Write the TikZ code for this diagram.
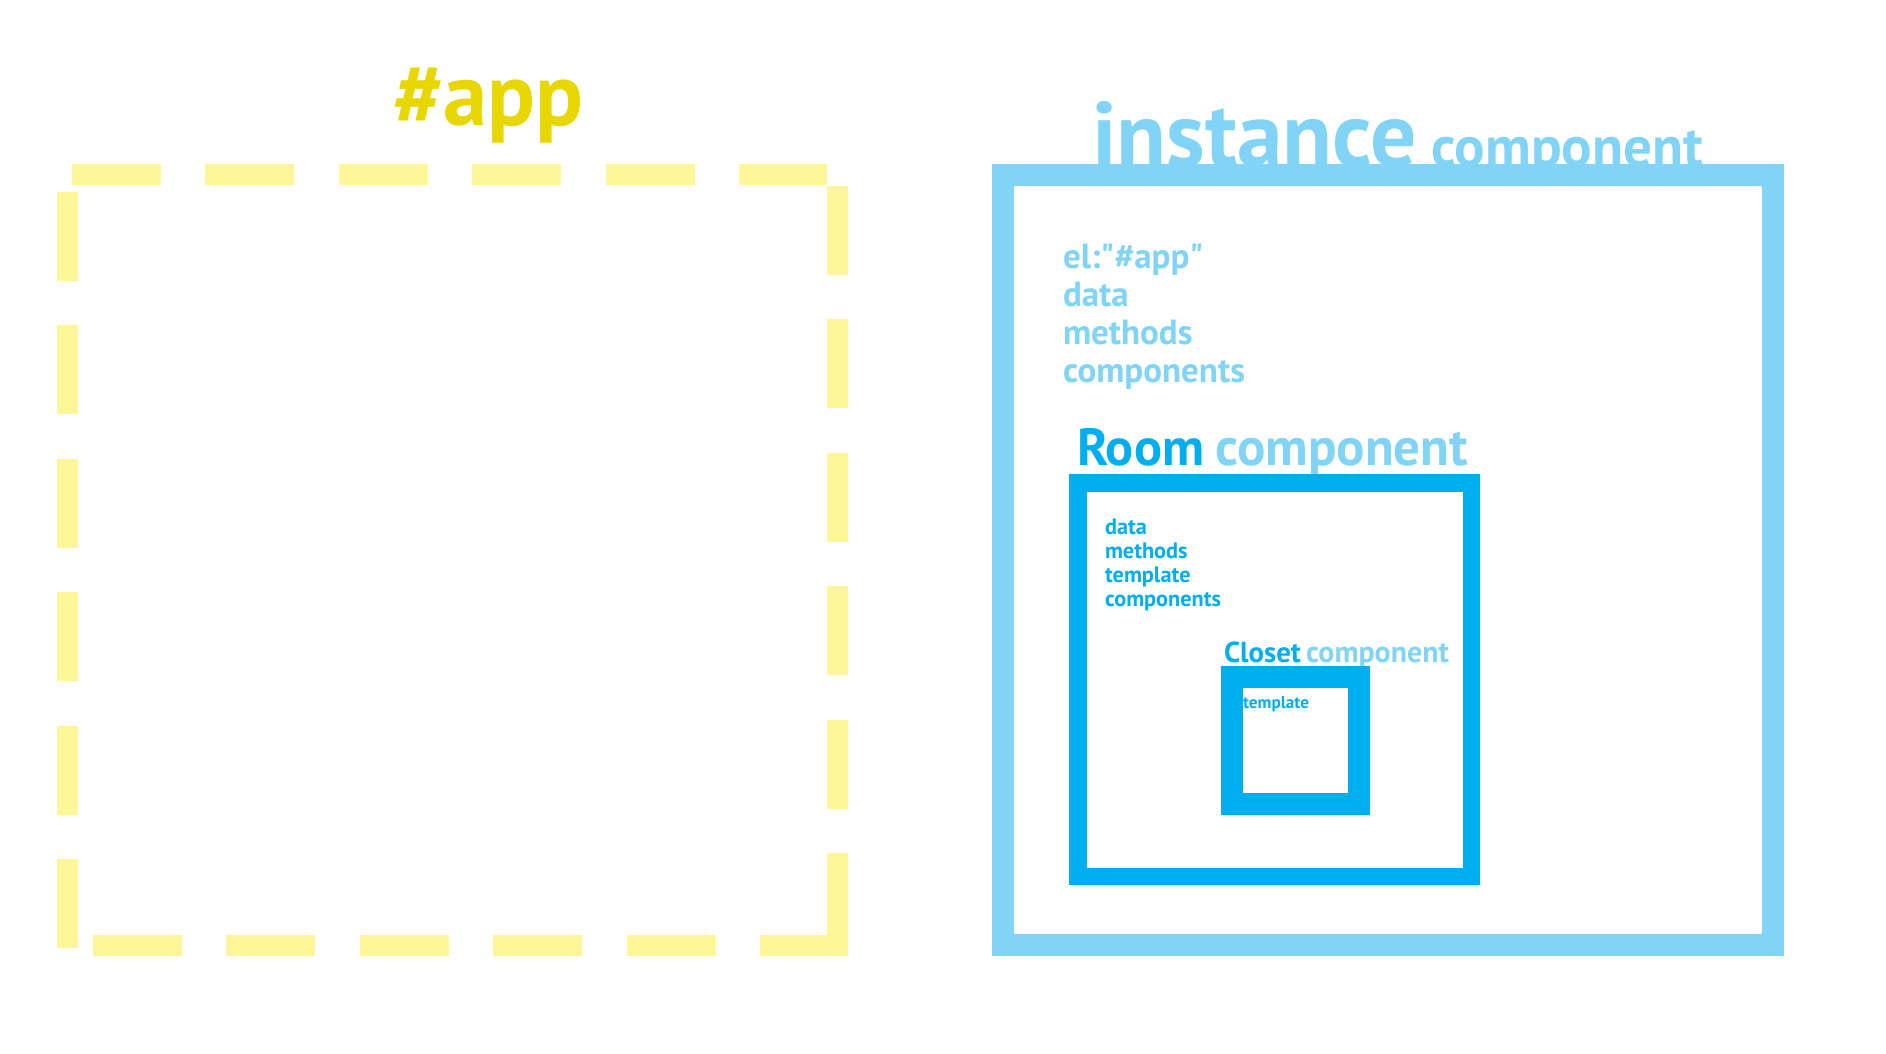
\documentclass[tikz,border=0pt]{standalone}
\usepackage{fontspec}
\setmainfont{PT Sans}
% same family without the TeX quote mapping, for straight quotes
\newfontfamily\quotefont{PT Sans}

\definecolor{dashyellow}{HTML}{FFF69A}
\definecolor{appyellow}{HTML}{E8D600}
\definecolor{lightblue}{HTML}{81D4F5}
\definecolor{deepblue}{HTML}{00AEEF}

% Bold font sized so that the sample text spans the given width (pt);
% third argument is the baseline skip (pt).
\newlength\fitlen
\newcommand\fitfont[3]{%
  \settowidth\fitlen{\fontsize{100pt}{100pt}\selectfont\bfseries #2}%
  \pgfmathsetmacro\fitsz{#1/\fitlen*100}%
  \fontsize{\fitsz pt}{#3pt}\selectfont\bfseries}
% straight double quote
\newcommand\sq{{\quotefont\bfseries"}}

\begin{document}
\begin{tikzpicture}[x=1pt,y=-1pt,
  txt/.style={inner sep=0pt, outer sep=0pt, anchor=base west},
  frame/.style={draw, fill=none, inner sep=0pt, outer sep=0pt, minimum size=#1},
  appdash/.style={draw=dashyellow, line width=21pt, line cap=butt,
                  dash pattern=on 89pt off 44.4pt}]

\useasboundingbox (0,0) rectangle (1886,1054);
\fill[white] (0,0) rectangle (1886,1054);

% ---------- #app mount point: dashed square ----------
\node[txt, text=appyellow, font=\fitfont{190}{\#app}{100}] (apptitle) at (393,125) {\#app};
\node[inner sep=0pt, outer sep=0pt, minimum width=770.5pt, minimum height=771pt] (appbox) at (452.25,560) {};
\draw[appdash] ([xshift=5pt]appbox.north west) -- ([xshift=-10.5pt]appbox.north east);
\draw[appdash] ([yshift=-11.5pt]appbox.north east) -- ([yshift=3.5pt]appbox.south east);
\draw[appdash] ([yshift=-17.5pt]appbox.north west) -- ([yshift=-3.5pt]appbox.south west);
\draw[appdash] ([xshift=26pt]appbox.south west) -- ([xshift=10.5pt]appbox.south east);

% ---------- root instance ----------
\node[txt, text=lightblue, font=\fitfont{325}{instance}{100}] (insttitle) at (1092,166) {instance};
\node[txt, text=lightblue, font=\fitfont{272}{component}{100}] (instcomp) at (1431,166) {component};
% multi-line nodes: the base anchor sits on the last line
\node[txt, text=lightblue, align=left, font=\fitfont{182}{components}{38}] (instlist) at (1063,382)
  {el:\sq\#app\sq\\data\\methods\\components};

% ---------- Room component ----------
\node[txt, text=deepblue, font=\fitfont{127}{Room}{100}] (roomtitle) at (1077,465) {Room};
\node[txt, text=lightblue, font=\fitfont{253}{component}{100}] (roomcomp) at (1215,465) {component};
\node[txt, text=deepblue, align=left, font=\fitfont{116}{components}{24}] (roomlist) at (1105,606)
  {data\\methods\\template\\components};

% ---------- Closet component ----------
\node[txt, text=deepblue, font=\fitfont{77}{Closet}{100}] (closettitle) at (1224,662) {Closet};
\node[txt, text=lightblue, font=\fitfont{143}{component}{100}] (closetcomp) at (1306,662) {component};
\node[txt, text=deepblue, font=\fitfont{66}{template}{100}] (closetlist) at (1243,708) {template};

% ---------- frames (drawn over the titles' descenders) ----------
\node[frame=770.5pt, draw=lightblue, line width=22pt] (instance) at (1387.75,559.75) {};
\node[frame=393.5pt, draw=deepblue, line width=17.5pt] (room) at (1274.6,679.5) {};
\node[frame=126.8pt, draw=deepblue, line width=22pt] (closet) at (1295.4,740.5) {};

\end{tikzpicture}
\end{document}
